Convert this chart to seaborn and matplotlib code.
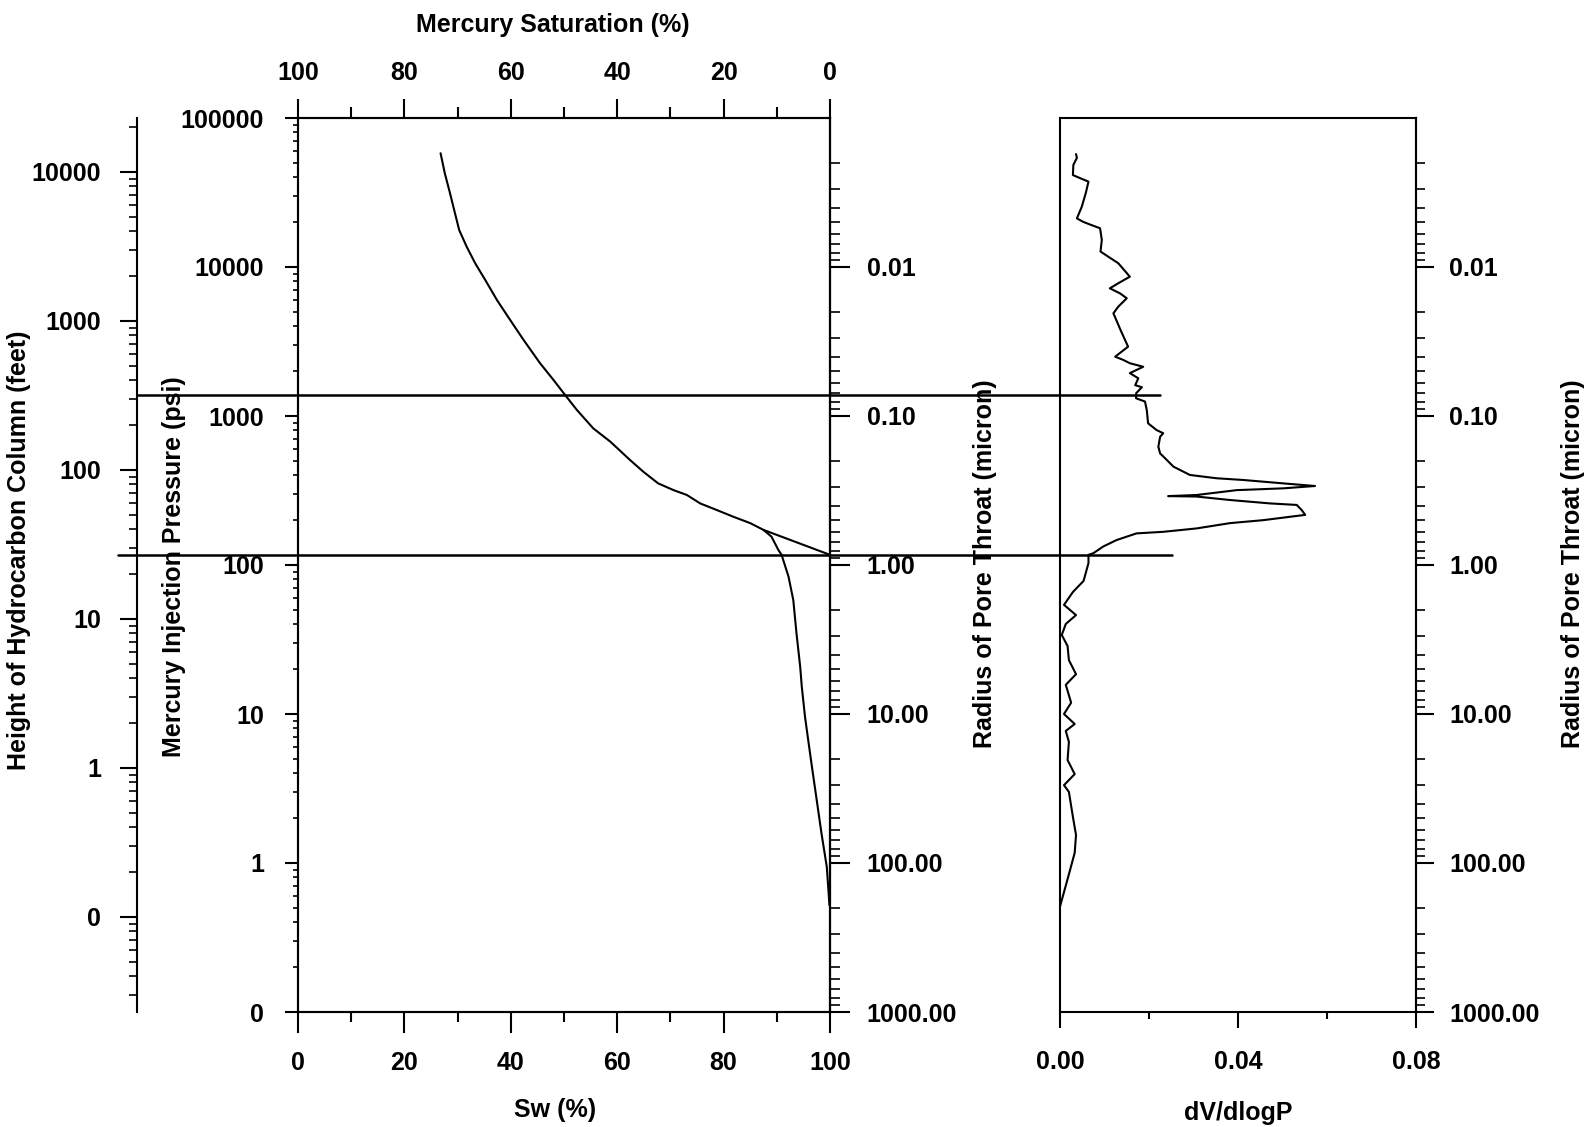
import numpy as np
import matplotlib
matplotlib.use("Agg")
import matplotlib.pyplot as plt
import matplotlib.ticker as mticker
from matplotlib.lines import Line2D
from matplotlib.transforms import blended_transform_factory
import seaborn as sns

# Capillary pressure curve: water saturation (%) against mercury injection pressure (psi)
sw_pct = [26.8, 27.6, 28.6, 29.5, 30.3, 31.7, 33.3, 35.2, 37.4, 39.9, 42.4, 45.5,
          48.0, 50.2, 52.4, 55.5, 58.7, 62.4, 64.9, 67.7, 70.6, 73.1, 75.6, 78.7,
          81.8, 85.0, 87.5, 89.0, 90.3, 90.9, 92.2, 93.1, 93.7, 94.4, 94.7, 95.3,
          95.9, 96.6, 97.5, 98.4, 99.4, 99.9]
pc_psi = [58000, 42500, 31000, 23000, 17700, 13700, 10600, 8180, 6000, 4400, 3240, 2260,
          1750, 1385, 1100, 826, 673, 507, 423, 353, 318, 295, 259, 234,
          211, 191, 172, 155, 126, 117, 83.6, 58.2, 34.8, 20.7, 15.2, 9.6,
          6.7, 4.43, 2.65, 1.58, 0.94, 0.52]

# Straight-line extrapolation of the plateau to 100 % water saturation
extrap_sw = [87.5, 100.0]
extrap_pc = [172, 117]

# Reference pressures drawn across both panels (psi)
ref_pc = [1385, 117]

# Pore throat size distribution: dV/dlogP against injection pressure (psi)
dv_dlogp = [0.0036, 0.0038, 0.0030, 0.0029, 0.0045, 0.0064, 0.0058, 0.0049, 0.0038, 0.0052,
            0.0071, 0.0090, 0.0094, 0.0091, 0.0109, 0.0131, 0.0157, 0.0131, 0.0112, 0.0135,
            0.0150, 0.0131, 0.0120, 0.0128, 0.0136, 0.0153, 0.0124, 0.0142, 0.0157, 0.0187,
            0.0157, 0.0176, 0.0169, 0.0184, 0.0171, 0.0171, 0.0191, 0.0195, 0.0198, 0.0217,
            0.0232, 0.0225, 0.0221, 0.0225, 0.0240, 0.0255, 0.0292, 0.0352, 0.0412, 0.0502,
            0.0573, 0.0502, 0.0397, 0.0307, 0.0243, 0.0307, 0.0382, 0.0472, 0.0532, 0.0543,
            0.0551, 0.0457, 0.0382, 0.0307, 0.0232, 0.0172, 0.0127, 0.0097, 0.0075, 0.0064,
            0.0064, 0.0053, 0.0029, 0.0009, 0.0036, 0.0013, 0.0004, 0.0017, 0.0020, 0.0036,
            0.0013, 0.0025, 0.0009, 0.0033, 0.0013, 0.0020, 0.0017, 0.0033, 0.0009, 0.0020,
            0.0029, 0.0036, 0.0033, 0.0020, 0.0000]
dist_pc = [57300, 54000, 48400, 41400, 39500, 37400, 31400, 25400, 21200, 20100,
           19100, 18200, 15200, 12700, 11700, 10600, 8610, 7780, 7190, 6650,
           6170, 5420, 4890, 4300, 3780, 2920, 2500, 2380, 2260, 2140,
           1940, 1790, 1610, 1560, 1420, 1315, 1250, 1096, 893, 805,
           766, 726, 622, 561, 507, 457, 402, 382, 372, 353,
           339, 327, 318, 295, 290, 288, 273, 259, 253, 234,
           217, 200, 191, 176, 167, 163, 147, 133, 120, 117,
           103, 78.2, 65.9, 54.0, 46.1, 40.2, 33.9, 28.6, 23.0, 18.5,
           15.7, 11.9, 10.0, 8.57, 7.69, 6.49, 4.91, 3.95, 3.33, 3.00,
           2.04, 1.54, 1.17, 0.84, 0.51]

# Axis ticks
sw_ticks = [0, 20, 40, 60, 80, 100]
sw_minor = [10, 30, 50, 70, 90]
hg_ticks = [100, 80, 60, 40, 20, 0]
pc_ticks = [0.1, 1, 10, 100, 1000, 10000, 100000]
height_ticks = [0.1, 1, 10, 100, 1000, 10000]
radius_ticks = [0.01, 0.1, 1, 10, 100, 1000]
dv_ticks = [0.0, 0.04, 0.08]
dv_minor = [0.02, 0.06]

PC_RANGE = (0.1, 100000)
HEIGHT_PER_PSI = 0.23      # feet of hydrocarbon column per psi of mercury pressure
RADIUS_CONST = 100.0       # pore throat radius (micron) = RADIUS_CONST / pressure (psi)

sns.set_theme(style="ticks", rc={
    "axes.edgecolor": "black", "axes.linewidth": 1.5,
    "xtick.color": "black", "ytick.color": "black",
    "text.color": "black", "axes.labelcolor": "black",
})
plt.rcParams["font.family"] = ["Liberation Sans", "DejaVu Sans"]
plt.rcParams["font.weight"] = "bold"
plt.rcParams["axes.labelweight"] = "bold"

FS = 18
W, H = 1590, 1127
fig = plt.figure(figsize=(W / 100, H / 100), dpi=100)
fig.patch.set_facecolor("white")

ax_bottom = (H - 1012) / H
ax_height = (1012 - 118) / H
ax = fig.add_axes([298 / W, ax_bottom, 532 / W, ax_height])
ax2 = fig.add_axes([1060 / W, ax_bottom, 356 / W, ax_height])

line_kw = dict(color="black", linewidth=1.5, sort=False, estimator=None)

# --- left panel: capillary pressure curve -------------------------------
ax.set_yscale("log")
sns.lineplot(x=sw_pct, y=pc_psi, ax=ax, **line_kw)
sns.lineplot(x=extrap_sw, y=extrap_pc, ax=ax, **line_kw)
ax.set_xlim(0, 100)
ax.set_ylim(*PC_RANGE)

log_fmt0 = mticker.FuncFormatter(lambda v, _: f"{v:.0f}")
log_fmt2 = mticker.FuncFormatter(lambda v, _: f"{v:.2f}")
minor_log = lambda: mticker.LogLocator(base=10, subs=np.arange(2, 10), numticks=100)

ax.xaxis.set_major_locator(mticker.FixedLocator(sw_ticks))
ax.xaxis.set_minor_locator(mticker.FixedLocator(sw_minor))
ax.xaxis.set_major_formatter(mticker.FuncFormatter(lambda v, _: f"{v:.0f}"))
ax.yaxis.set_major_locator(mticker.FixedLocator(pc_ticks))
ax.yaxis.set_minor_locator(minor_log())
ax.yaxis.set_major_formatter(log_fmt0)
ax.yaxis.set_minor_formatter(mticker.NullFormatter())
ax.tick_params(axis="x", which="major", direction="out", length=15, width=1.5, pad=13, labelsize=FS)
ax.tick_params(axis="x", which="minor", direction="out", length=7, width=1.5)
ax.tick_params(axis="y", which="major", direction="out", length=9.4, width=1.5, pad=15, labelsize=FS)
ax.tick_params(axis="y", which="minor", direction="out", length=3.6, width=1.2)
ax.set_xlabel("Sw (%)", fontsize=FS, fontweight="bold", va="center", ha="center")
ax.xaxis.set_label_coords(0.483, (1012 - 1110) / 894)
ax.set_ylabel("Mercury Injection Pressure (psi)", fontsize=FS, fontweight="bold",
              va="center", ha="center")
ax.yaxis.set_label_coords((174 - 298) / 532, 0.498)

# top axis: mercury saturation
axt = ax.twiny()
axt.set_xlim(100, 0)
axt.xaxis.set_major_locator(mticker.FixedLocator(hg_ticks))
axt.xaxis.set_minor_locator(mticker.FixedLocator(sw_minor))
axt.xaxis.set_major_formatter(mticker.FuncFormatter(lambda v, _: f"{v:.0f}"))
axt.tick_params(axis="x", which="major", direction="out", length=13.7, width=1.5, pad=10, labelsize=FS)
axt.tick_params(axis="x", which="minor", direction="out", length=8, width=1.5)
axt.set_xlabel("Mercury Saturation (%)", fontsize=FS, fontweight="bold", va="center", ha="center")
axt.xaxis.set_label_coords(0.479, (1012 - 25) / 894)

# outer left axis: height of hydrocarbon column
axh = ax.twinx()
axh.set_yscale("log")
axh.set_ylim(PC_RANGE[0] * HEIGHT_PER_PSI, PC_RANGE[1] * HEIGHT_PER_PSI)
for s in ["top", "bottom", "right"]:
    axh.spines[s].set_visible(False)
axh.spines["left"].set_visible(True)
axh.spines["left"].set_position(("axes", (137 - 298) / 532))
axh.yaxis.set_ticks_position("left")
axh.yaxis.set_label_position("left")
axh.yaxis.set_major_locator(mticker.FixedLocator(height_ticks))
axh.yaxis.set_minor_locator(minor_log())
axh.yaxis.set_major_formatter(log_fmt0)
axh.yaxis.set_minor_formatter(mticker.NullFormatter())
axh.tick_params(axis="y", which="major", direction="out", length=12, width=1.5, pad=14, labelsize=FS)
axh.tick_params(axis="y", which="minor", direction="out", length=6, width=1.2)
axh.set_ylabel("Height of Hydrocarbon Column (feet)", fontsize=FS, fontweight="bold",
               va="center", ha="center")
axh.yaxis.set_label_coords((19 - 298) / 532, (1012 - 550) / 894)


def radius_axis(parent, major_len, minor_len, pad, label_x):
    axr = parent.twinx()
    axr.set_yscale("log")
    axr.set_ylim(RADIUS_CONST / PC_RANGE[0], RADIUS_CONST / PC_RANGE[1])
    for s in ["top", "bottom", "left"]:
        axr.spines[s].set_visible(False)
    axr.yaxis.set_major_locator(mticker.FixedLocator(radius_ticks))
    axr.yaxis.set_minor_locator(minor_log())
    axr.yaxis.set_major_formatter(log_fmt2)
    axr.yaxis.set_minor_formatter(mticker.NullFormatter())
    axr.tick_params(axis="y", which="major", direction="out", length=major_len, width=1.5,
                    pad=pad, labelsize=FS)
    axr.tick_params(axis="y", which="minor", direction="out", length=minor_len, width=1.2)
    axr.set_ylabel("Radius of Pore Throat (micron)", fontsize=FS, fontweight="bold",
                   va="center", ha="center", rotation=90)
    axr.yaxis.set_label_coords(label_x, 0.502)
    return axr


radius_axis(ax, 14.4, 7.2, 12, (985 - 298) / 532)

# --- right panel: pore throat distribution -------------------------------
ax2.set_yscale("log")
sns.lineplot(x=dv_dlogp, y=dist_pc, ax=ax2, **line_kw)
ax2.set_xlim(0, 0.08)
ax2.set_ylim(*PC_RANGE)
ax2.xaxis.set_major_locator(mticker.FixedLocator(dv_ticks))
ax2.xaxis.set_minor_locator(mticker.FixedLocator(dv_minor))
ax2.xaxis.set_major_formatter(log_fmt2)
ax2.tick_params(axis="x", which="major", direction="out", length=11.5, width=1.5, pad=16, labelsize=FS)
ax2.tick_params(axis="x", which="minor", direction="out", length=5, width=1.5)
ax2.set_ylabel("")
ax2.set_xlabel("dV/dlogP", fontsize=FS, fontweight="bold", va="center", ha="center")
ax2.xaxis.set_label_coords(0.5, (1012 - 1113) / 894)

radius_axis(ax2, 13, 6.5, 11, (1573 - 1060) / 356)
# the distribution panel carries no pressure scale of its own
ax2.tick_params(axis="y", which="both", left=False, labelleft=False, right=False, labelright=False)

# --- reference pressure lines spanning both panels -----------------------
trans = blended_transform_factory(fig.transFigure, ax.transData)
for pc, x0, x1 in zip(ref_pc, [137 / W, 118 / W], [1160 / W, 1172 / W]):
    fig.add_artist(Line2D([x0, x1], [pc, pc], transform=trans, color="black",
                          linewidth=1.8, clip_on=False))

fig.savefig("out.png", dpi=100, facecolor="white")
